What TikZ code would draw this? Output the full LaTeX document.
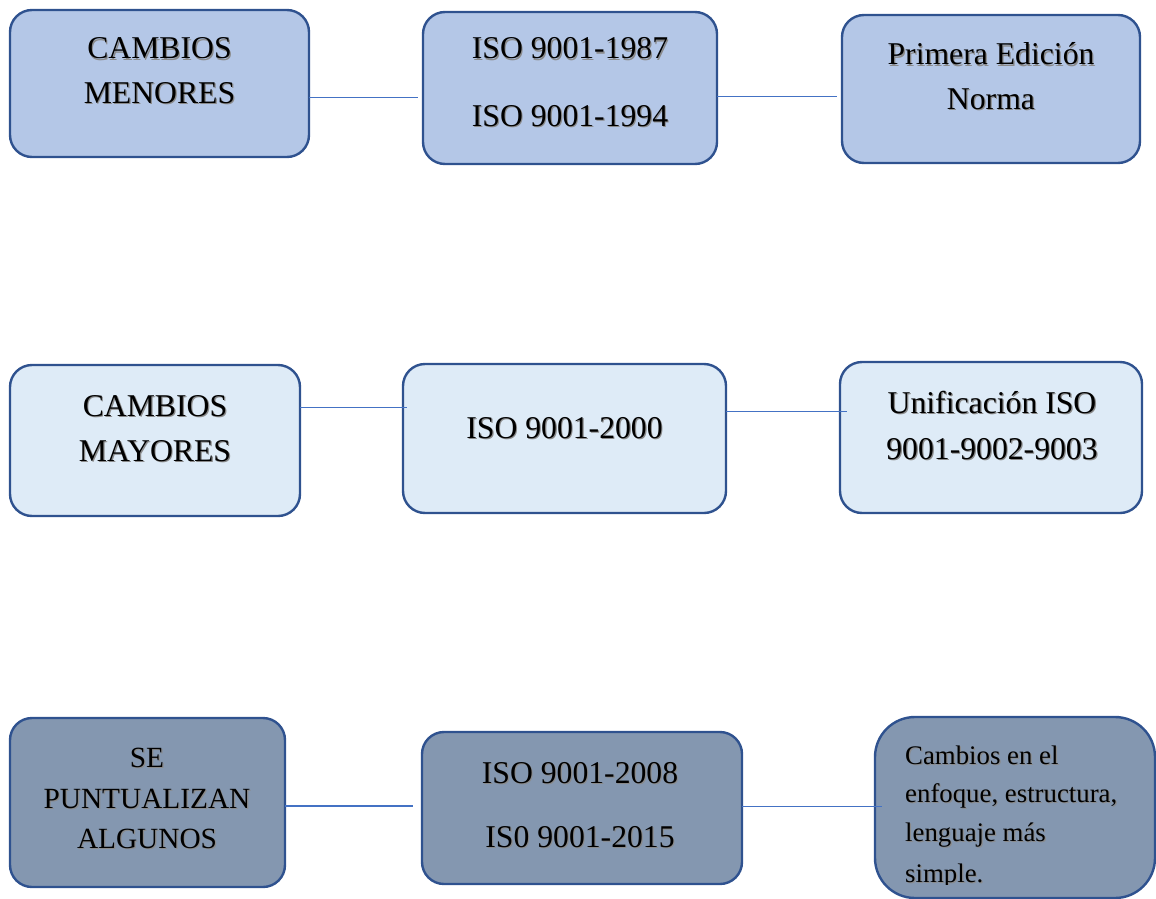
\documentclass[tikz,border=0pt]{standalone}
\usepackage{fontspec}
\setmainfont{Liberation Serif}
\usetikzlibrary{calc}

\definecolor{edgeblue}{HTML}{2F528F}
\definecolor{linkblue}{HTML}{4472C4}
\definecolor{fillA}{HTML}{B4C7E7}
\definecolor{fillB}{HTML}{DEEBF7}
\definecolor{fillC}{HTML}{8497B0}
\definecolor{shadowc}{HTML}{8A8A8A}

% text with a soft drop shadow
\newcommand{\shd}[1]{\makebox[0pt][l]{\kern1.2pt\raisebox{-1.2pt}{\textcolor{shadowc}{#1}}}#1}

\tikzset{
  box/.style={draw=edgeblue, line width=2.4pt, rounded corners=22pt,
              inner sep=0pt, outer sep=0pt},
  link/.style={draw=linkblue, line width=1.3pt},
  big/.style={anchor=base, inner sep=0pt, font=\fontsize{31.7}{31.7}\selectfont},
  mid/.style={anchor=base, inner sep=0pt, font=\fontsize{29.3}{29.3}\selectfont},
  small/.style={anchor=base west, inner sep=0pt, font=\fontsize{26.8}{26.8}\selectfont}
}

\begin{document}
\begin{tikzpicture}[x=1pt, y=-1pt]
\useasboundingbox (0,0) rectangle (1156,899);
\clip (0,0) rectangle (1156,899);

% ---- row 1: minor changes ----
\node[box, fill=fillA, minimum width=299pt, minimum height=147pt] (b1) at (159.5,83.5) {};
\node[box, fill=fillA, minimum width=294pt, minimum height=152pt] (b2) at (570,88) {};
\node[box, fill=fillA, minimum width=298pt, minimum height=148pt] (b3) at (991,89) {};

\node[big] (t1a) at (159.5,59) {\shd{CAMBIOS}};
\node[big] (t1b) at (159.5,103) {\shd{MENORES}};
\node[big] (t2a) at (570,59) {\shd{ISO 9001-1987}};
\node[big] (t2b) at (570,126) {\shd{ISO 9001-1994}};
\node[big] (t3a) at (991,65) {\shd{Primera Edición}};
\node[big] (t3b) at (991,109) {\shd{Norma}};

\coordinate (e1) at (418,97.3);
\coordinate (e2) at (837,96.7);
\draw[link] (b1.east |- e1) -- (e1);
\draw[link] (b2.east |- e2) -- (e2);

% ---- row 2: major changes ----
\node[box, fill=fillB, minimum width=290pt, minimum height=151pt] (b4) at (155,440.5) {};
\node[box, fill=fillB, minimum width=323pt, minimum height=149pt] (b5) at (564.5,438.5) {};
\node[box, fill=fillB, minimum width=302pt, minimum height=151pt] (b6) at (991,437.5) {};

\node[big] (t4a) at (155,416) {\shd{CAMBIOS}};
\node[big] (t4b) at (155,461) {\shd{MAYORES}};
\node[big] (t5a) at (564.5,438) {\shd{ISO 9001-2000}};
\node[big] (t6a) at (992,413) {\shd{Unificación ISO}};
\node[big] (t6b) at (992,459) {\shd{9001-9002-9003}};

\coordinate (e3) at (407,407.3);
\coordinate (e4) at (847,411.3);
\draw[link] (b4.east |- e3) -- (e3);
\draw[link] (b5.east |- e4) -- (e4);

% ---- row 3: specific changes ----
\node[box, fill=fillC, minimum width=275pt, minimum height=169pt] (b7) at (147.5,802.5) {};
\node[box, fill=fillC, minimum width=320pt, minimum height=152pt] (b8) at (582,808) {};
\node[box, fill=fillC, rounded corners=40pt, minimum width=280pt, minimum height=181pt] (b9) at (1015,807.5) {};

\node[mid] (t7a) at (147,767) {\shd{SE}};
\node[mid] (t7b) at (147,808) {\shd{PUNTUALIZAN}};
\node[mid] (t7c) at (147,848) {\shd{ALGUNOS}};
\node[big] (t8a) at (580,783) {\shd{ISO 9001-2008}};
\node[big] (t8b) at (580,847) {\shd{IS0 9001-2015}};

% the text frame of the last box cuts off below its fourth line
\begin{scope}
  \clip (875,700) rectangle (1156,884);
  \node[small] (t9a) at (905,764) {\shd{Cambios en el}};
  \node[small] (t9b) at (905,802.5) {\shd{enfoque, estructura,}};
  \node[small] (t9c) at (905,841.5) {\shd{lenguaje más}};
  \node[small] (t9d) at (905,882) {\shd{simple.}};
\end{scope}

\coordinate (e5) at (413,806);
\coordinate (e6) at (882,806.7);
\draw[link] (b7.east |- e5) -- (e5);
\draw[link] (b8.east |- e6) -- (e6);
\end{tikzpicture}
\end{document}
